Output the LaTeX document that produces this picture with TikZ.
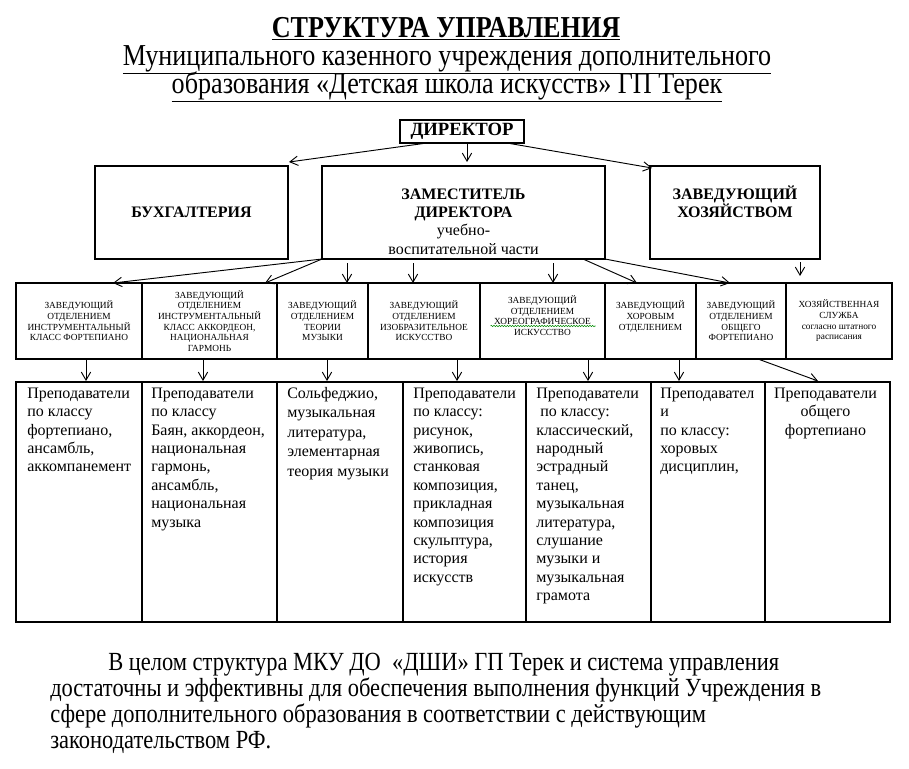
\documentclass[tikz,border=0pt]{standalone}
\usepackage{fontspec}
\setmainfont{Liberation Serif}
\newfontfamily\narrowserif[FakeStretch=0.86]{Liberation Serif}
\usetikzlibrary{calc, positioning}
\usetikzlibrary{arrows.meta}
\usetikzlibrary{decorations.pathmorphing}

\begin{document}
\begin{tikzpicture}[x=0.75pt, y=-0.75pt,
  box/.style={draw, line width=0.9pt, inner sep=0pt, outer sep=0pt},
  cell/.style 2 args={box, minimum width=#1*0.75pt, minimum height=#2*0.75pt},
  dept/.style={cell={#1}{76}, align=center, font=\fontsize{7}{8}\selectfont},
  teacher/.style={cell={#1}{240}},
  teach/.style={anchor=north west, inner sep=0pt, align=left, font=\fontsize{12}{13.8}\selectfont},
  headtxt/.style={inner sep=0pt, align=center, font=\fontsize{12}{13.8}\selectfont},
  titletxt/.style={anchor=base, inner sep=1pt, font=\narrowserif\fontsize{22.8}{26}\selectfont},
  para/.style={anchor=base west, inner sep=0pt, font=\narrowserif\fontsize{19.6}{22}\selectfont},
  arr/.style={-{Straight Barb[length=6pt, width=7pt]}, line width=0.7pt},
]
\path[fill=white] (0,0) rectangle (909,768);
\useasboundingbox (0,0) rectangle (909,768);

% title
\node[titletxt] (title1) at (446,37) {\bfseries\underline{СТРУКТУРА УПРАВЛЕНИЯ}};
\node[titletxt] (title2) at (447,65) {\underline{Муниципального казенного учреждения дополнительного}};
\node[titletxt] (title3) at (447,93) {\underline{образования «Детская школа искусств» ГП Терек}};

% top level
\node[cell={124}{23}, font=\fontsize{14}{16}\selectfont\bfseries] (director) at (462,131.5) {ДИРЕКТОР};
\node[cell={193}{93}, font=\fontsize{12}{13.8}\selectfont\bfseries] (buh) at (191.5,212.5) {БУХГАЛТЕРИЯ};
\node[cell={283}{93}] (deputy) at (463.5,212.5) {};
\node[headtxt] (deputytxt) at ($(deputy.center)+(0,9)$) {\textbf{ЗАМЕСТИТЕЛЬ}\\\textbf{ДИРЕКТОРА}\\учебно-\\воспитательной части};
\node[cell={170}{93}] (house) at (735,212.5) {};
\node[headtxt] (housetxt) at ($(house.center)+(0,-11)$) {\textbf{ЗАВЕДУЮЩИЙ}\\\textbf{ХОЗЯЙСТВОМ}};

% departments
\node[dept={126}] (d1) at (79,321) {ЗАВЕДУЮЩИЙ\\ОТДЕЛЕНИЕМ\\ИНСТРУМЕНТАЛЬНЫЙ\\КЛАСС ФОРТЕПИАНО};
\node[dept={135}, right=0pt of d1] (d2) {ЗАВЕДУЮЩИЙ\\ОТДЕЛЕНИЕМ\\ИНСТРУМЕНТАЛЬНЫЙ\\КЛАСС АККОРДЕОН,\\НАЦИОНАЛЬНАЯ\\ГАРМОНЬ};
\node[dept={91}, right=0pt of d2] (d3) {ЗАВЕДУЮЩИЙ\\ОТДЕЛЕНИЕМ\\ТЕОРИИ\\МУЗЫКИ};
\node[dept={112}, right=0pt of d3] (d4) {ЗАВЕДУЮЩИЙ\\ОТДЕЛЕНИЕМ\\ИЗОБРАЗИТЕЛЬНОЕ\\ИСКУССТВО};
\node[dept={125}, right=0pt of d4] (d5) {ЗАВЕДУЮЩИЙ\\ОТДЕЛЕНИЕМ\\ХОРЕОГРАФИЧЕСКОЕ\\ИСКУССТВО\\\mbox{}};
\node[dept={91}, right=0pt of d5] (d6) {ЗАВЕДУЮЩИЙ\\ХОРОВЫМ\\ОТДЕЛЕНИЕМ\\\mbox{}};
\node[dept={90}, right=0pt of d6] (d7) {ЗАВЕДУЮЩИЙ\\ОТДЕЛЕНИЕМ\\ОБЩЕГО\\ФОРТЕПИАНО};
\node[dept={106}, right=0pt of d7] (d8) {ХОЗЯЙСТВЕННАЯ\\СЛУЖБА\\согласно штатного\\расписания};
\draw[green!55!black, line width=0.4pt, decorate, decoration={snake, amplitude=0.5pt, segment length=2pt}]
  ($(d5.center)+(-52,5)$) -- ($(d5.center)+(53,5)$);

% teachers
\node[teacher={126}] (t1) at (79,502) {};
\node[teacher={135}, right=0pt of t1] (t2) {};
\node[teacher={126}, right=0pt of t2] (t3) {};
\node[teacher={123}, right=0pt of t3] (t4) {};
\node[teacher={125}, right=0pt of t4] (t5) {};
\node[teacher={114}, right=0pt of t5] (t6) {};
\node[teacher={125}, right=0pt of t6] (t7) {};
\node[teach] (t1txt) at ($(t1.north west)+(11,5.5)$) {Преподаватели\\по классу\\фортепиано,\\ансамбль,\\аккомпанемент};
\node[teach] (t2txt) at ($(t2.north west)+(9,5.5)$) {Преподаватели\\по классу\\Баян, аккордеон,\\национальная\\гармонь,\\ансамбль,\\национальная\\музыка};
\node[teach, font=\fontsize{12}{14.6}\selectfont] (t3txt) at ($(t3.north west)+(10,5)$) {Сольфеджио,\\музыкальная\\литература,\\элементарная\\теория музыки};
\node[teach] (t4txt) at ($(t4.north west)+(10,5.5)$) {Преподаватели\\по классу:\\рисунок,\\живопись,\\станковая\\композиция,\\прикладная\\композиция\\скульптура,\\история\\искусств};
\node[teach] (t5txt) at ($(t5.north west)+(10,5.5)$) {Преподаватели\\\hspace*{0.25em}по классу:\\классический,\\народный\\эстрадный\\танец,\\музыкальная\\литература,\\слушание\\музыки и\\музыкальная\\грамота};
\node[teach] (t6txt) at ($(t6.north west)+(9,5.5)$) {Преподавател\\и\\по классу:\\хоровых\\дисциплин,};
\node[teach, anchor=north, align=center] (t7txt) at ($(t7.north)+(-2,5.5)$) {Преподаватели\\общего\\фортепиано};

% connectors
\draw[arr] ($(director.south west)+(27,0)$) -- ($(buh.north east)+(1,-4)$);
\draw[arr] ($(director.south)+(5,0)$) -- ($(deputy.north)+(3.5,-4)$);
\draw[arr] ($(director.south east)+(-17,0)$) -- ($(house.north west)+(2,2)$);
\draw[arr] (deputy.south west) -- ($(d1.north)+(34,0)$);
\draw[arr] (deputy.south west) -- ($(d2.north)+(55.5,0)$);
\draw[arr] ($(deputy.south west)+(25,4)$) -- ($(d3.north)+(24.5,0)$);
\draw[arr] ($(deputy.south west)+(91,4)$) -- ($(d4.north)+(-11,0)$);
\draw[arr] ($(deputy.south west)+(231,4)$) -- ($(d5.north)+(10.5,0)$);
\draw[arr] ($(deputy.south east)+(-22,0)$) -- ($(d6.north)+(-13.5,0)$);
\draw[arr] (deputy.south east) -- ($(d7.north)+(-11,0)$);
\draw[arr] ($(house.south)+(65,3)$) -- ($(d8.north)+(-39,-7)$);
\foreach \a/\da/\b/\db in {d1/7/t1/7, d2/-6.5/t2/-6.5, d3/4.5/t3/-13, d4/33/t4/-7.5, d5/45.5/t5/-0.5, d6/28.5/t6/-29, d7/17/t7/-9.5}
  \draw[arr] ($(\a.south)+(\da,0)$) -- ($(\b.north)+(\db,-1)$);

% closing text
\node[para] (para1) at (108,670) {В целом структура МКУ ДО~ «ДШИ» ГП Терек и система управления};
\node[para] (para2) at (50,696) {достаточны и эффективны для обеспечения выполнения функций Учреждения в};
\node[para] (para3) at (50,722) {сфере дополнительного образования в соответствии с действующим};
\node[para] (para4) at (50,748) {законодательством РФ.};
\end{tikzpicture}
\end{document}
